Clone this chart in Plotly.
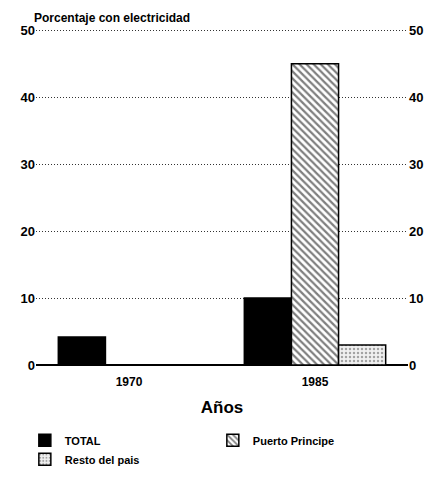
import plotly.graph_objects as go

years = ["1970", "1985"]
total = [4.2, 10]
puerto = [0, 45]
resto = [0, 3]
y_ticks = [0, 10, 20, 30, 40, 50]

FONT = "Liberation Sans"

fig = go.Figure()
fig.add_trace(go.Bar(name="TOTAL", x=years, y=total,
                     marker=dict(color="black", line=dict(color="black", width=1.5))))
fig.add_trace(go.Bar(name="Puerto Principe", x=years, y=puerto,
                     marker=dict(color="white", line=dict(color="black", width=1.5),
                                 pattern=dict(shape="\\", fgcolor="black", bgcolor="white",
                                              size=5, solidity=0.45))))
fig.add_trace(go.Bar(name="Resto del pais", x=years, y=resto,
                     marker=dict(color="white", line=dict(color="black", width=1.5),
                                 pattern=dict(shape=".", fgcolor="#555", bgcolor="#f0f0f0",
                                              size=4, solidity=0.3))))
# invisible trace for right axis
fig.add_trace(go.Scatter(x=years, y=[None, None], yaxis="y2", showlegend=False,
                         hoverinfo="skip"))

# page has an 8px body margin: figure is shrunk and margins shifted accordingly
fig.update_layout(
    width=427, height=469,
    margin=dict(l=28, r=27, t=19, b=112, autoexpand=False),
    plot_bgcolor="white", paper_bgcolor="white",
    barmode="group", bargap=0.24, bargroupgap=0,
    font=dict(family=FONT, size=12, color="black", weight="bold"),
    xaxis=dict(type="category", showgrid=False, ticks="", showline=False,
               ticklabelstandoff=8,
               tickfont=dict(size=12, weight="bold"),
               title=dict(text="Años", font=dict(size=17, weight="bold"), standoff=13)),
    yaxis=dict(range=[0, 50.5], tickvals=y_ticks, showgrid=True,
               gridcolor="#333", griddash="1px,2px", gridwidth=1,
               zeroline=True, zerolinecolor="black", zerolinewidth=1.5,
               showline=False, ticks="", tickfont=dict(size=13, weight="bold")),
    yaxis2=dict(range=[0, 50.5], tickvals=y_ticks, overlaying="y", side="right",
                showgrid=False, zeroline=False, showline=False, ticks="",
                tickfont=dict(size=13, weight="bold")),
    legend=dict(orientation="h", x=-0.03, xanchor="left", y=-0.18, yanchor="top",
                entrywidth=143, entrywidthmode="pixels", tracegroupgap=0,
                font=dict(size=11, weight="bold"), traceorder="normal"),
    annotations=[dict(text="Porcentaje con electricidad", xref="paper", yref="paper",
                      x=-0.01, y=1.0, xanchor="left", yanchor="bottom", yshift=0,
                      showarrow=False, font=dict(size=12, weight="bold"))],
)

fig.write_html("out.html")
